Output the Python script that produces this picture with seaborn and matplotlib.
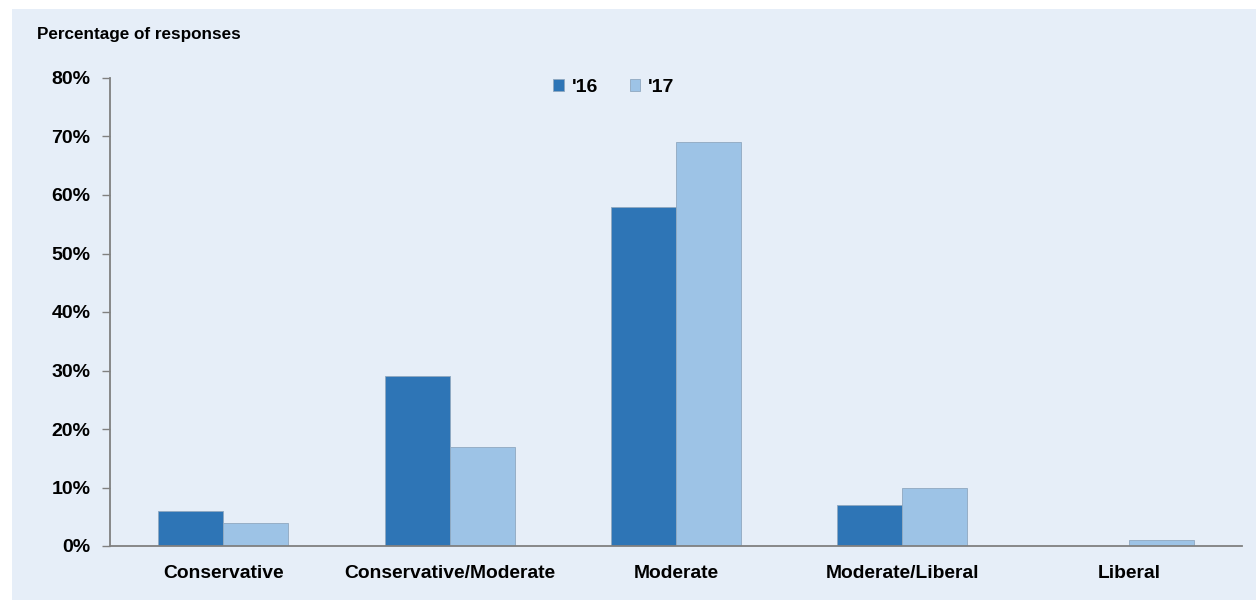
import matplotlib
matplotlib.use("Agg")
import matplotlib.pyplot as plt
import matplotlib.patches as mpatches
import seaborn as sns
import pandas as pd

categories = ["Conservative", "Conservative/Moderate", "Moderate", "Moderate/Liberal", "Liberal"]
years = ["'16", "'17"]
values_16 = [6, 29, 58, 7, 0]
values_17 = [4, 17, 69, 10, 1]
yticks = [0, 10, 20, 30, 40, 50, 60, 70, 80]

df = pd.DataFrame({
    "category": categories * 2,
    "year": [years[0]] * len(categories) + [years[1]] * len(categories),
    "value": values_16 + values_17,
})

sns.set_theme(style="white")
plt.rcParams['font.family'] = ['Liberation Sans', 'DejaVu Sans']
plt.rcParams['text.color'] = 'black'
plt.rcParams['xtick.labelcolor'] = 'black'
plt.rcParams['ytick.labelcolor'] = 'black'

bg = "#E6EEF8"
fig = plt.figure(figsize=(12.56, 6.02), dpi=100)
fig.patch.set_facecolor("white")
fig.patches.append(mpatches.Rectangle((12/1256, 0.003), 1 - 12/1256, (593 - 2)/602,
                                      transform=fig.transFigure, facecolor=bg,
                                      edgecolor="none", zorder=-10))
ax = fig.add_axes([110/1256, 56/602, (1242-110)/1256, (546-78)/602])
ax.set_facecolor("none")
ax.set_zorder(5)

palette = {"'16": "#2E75B6", "'17": "#9DC3E6"}
sns.barplot(data=df, x="category", y="value", hue="year", palette=palette,
            width=0.575, ax=ax, saturation=1, edgecolor="#8FA8C0", linewidth=0.6)

ax.set_ylim(0, 80)
ax.set_xlim(-0.5, 4.5)
ax.set_yticks(yticks)
ax.set_yticklabels([f"{t}%" for t in yticks], fontsize=14, fontweight="bold")
ax.set_xticklabels(categories, fontsize=13.9, fontweight="bold")
ax.set_xlabel("")
ax.set_ylabel("")
for s in ["top", "right"]:
    ax.spines[s].set_visible(False)
for s in ["left", "bottom"]:
    ax.spines[s].set_color("#808080")
    ax.spines[s].set_linewidth(1.3)
ax.tick_params(axis="y", which="both", left=True, length=6, width=1, color="#808080", pad=8)
ax.tick_params(axis="x", bottom=False, pad=8)

leg = ax.legend(loc="upper center", bbox_to_anchor=(0.445, 1.035), ncol=2, frameon=False,
                prop={"weight": "bold", "size": 14}, handlelength=0.55, handleheight=0.55,
                handletextpad=0.4, columnspacing=1.63)

fig.text(37/1256, 1 - 35/602, "Percentage of responses", fontsize=12.3, fontweight="bold",
         va="center", ha="left")

fig.savefig("out.png", dpi=100, facecolor=fig.get_facecolor())
